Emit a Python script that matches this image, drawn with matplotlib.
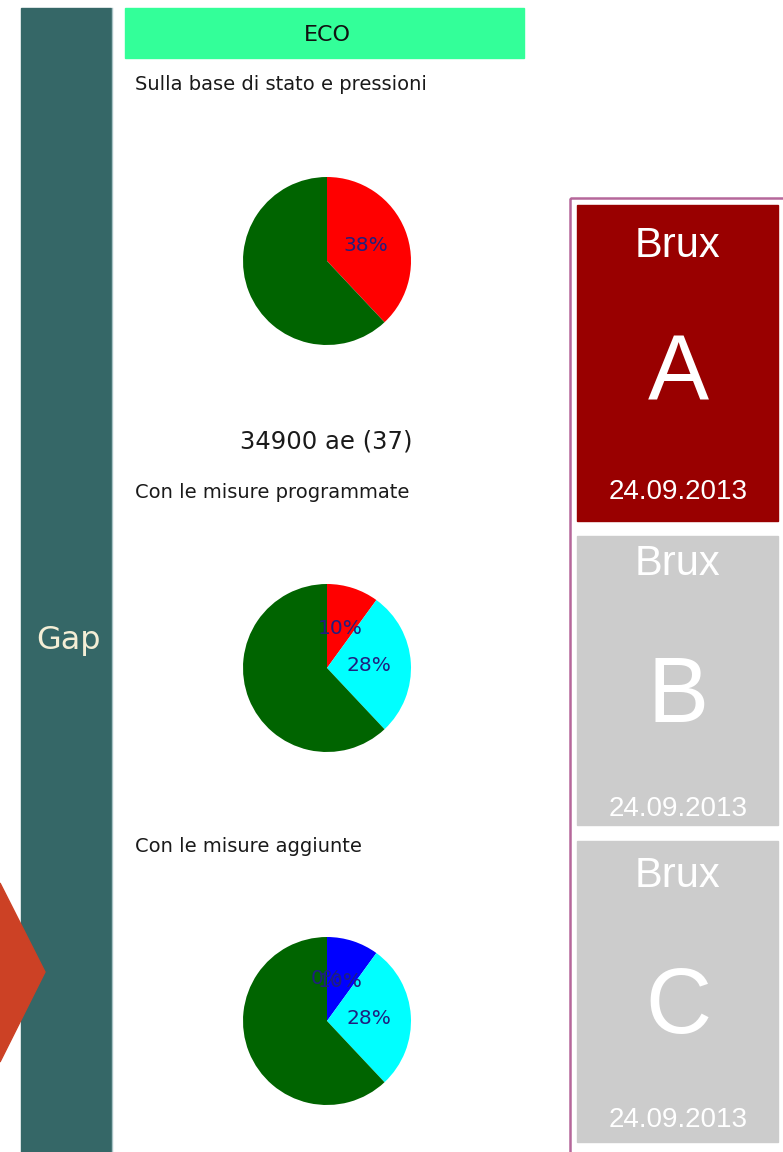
import matplotlib.pyplot as plt
from matplotlib.patches import Rectangle, Polygon

# Data
header = "ECO"
side_label = "Gap"
section_titles = ["Sulla base di stato e pressioni",
                  "Con le misure programmate",
                  "Con le misure aggiunte"]
summary_text = "34900 ae (37)"
pie_values = [[38, 62], [10, 28, 62], [0, 10, 28, 62]]
pie_colors = [["#ff0000", "#006400"],
              ["#ff0000", "#00ffff", "#006400"],
              ["#ff0000", "#0000ff", "#00ffff", "#006400"]]
tile_city = "Brux"
tile_letters = ["A", "B", "C"]
tile_date = "24.09.2013"

W, H = 783, 1152


def main():
    fig = plt.figure(figsize=(W / 100, H / 100), dpi=100)
    ax = fig.add_axes([0, 0, 1, 1])
    ax.set_xlim(0, W)
    ax.set_ylim(H, 0)
    ax.axis("off")

    # left band and arrow
    ax.add_patch(Rectangle((21, 8), 90, H, color="#356767", zorder=1))
    ax.plot([111.5, 111.5], [8, H], color="#a9c3c6", lw=1, zorder=2)
    ax.add_patch(Polygon([(0, 883), (45, 972), (0, 1062)], closed=True,
                         color="#cc4125", zorder=3))
    ax.text(69, 641, side_label, color="#f4eed6", fontsize=23,
            ha="center", va="center", zorder=4)

    # header
    ax.add_patch(Rectangle((125, 8), 399, 50, color="#33ff99", zorder=1))
    ax.text(327, 35, header, fontsize=16, ha="center", va="center",
            color="#111111")

    title_y = [85, 492, 846]
    for t, y in zip(section_titles, title_y):
        ax.text(135, y, t, fontsize=14, ha="left", va="center",
                color="#1a1a1a")
    ax.text(326, 441, summary_text, fontsize=17.5, ha="center", va="center",
            color="#1a1a1a")

    # pies
    centers = [261, 668, 1021]
    r = 84
    for vals, cols, cy in zip(pie_values, pie_colors, centers):
        cx = 327
        pax = fig.add_axes([(cx - r) / W, 1 - (cy + r) / H, 2 * r / W, 2 * r / H])
        wedges, texts, autotexts = pax.pie(
            vals, colors=cols, startangle=90, counterclock=False,
            autopct="%1.0f%%", pctdistance=0.5,
            textprops={"color": "#1f1f7f", "fontsize": 14.5})
        autotexts[-1].set_text("")
        pax.set_xlim(-1, 1)
        pax.set_ylim(-1, 1)
        pax.set_aspect("equal")
        pax.axis("off")

    # right panel
    ax.add_patch(Rectangle((570, 198), 260, 1000, fill=False,
                           edgecolor="#b5679a", lw=1.8, zorder=2))
    tops = [205, 536, 841]
    bottoms = [521, 825, 1142]
    fills = ["#990000", "#cccccc", "#cccccc"]
    city_off = [41, 28, 35]
    letter_off = [172, 162, 168]
    date_off = [29, 16, 22]
    for i, letter in enumerate(tile_letters):
        t, b = tops[i], bottoms[i]
        ax.add_patch(Rectangle((577, t), 201, b - t, color=fills[i], zorder=3))
        ax.text(678, t + city_off[i], tile_city, color="white", fontsize=30,
                family="Liberation Sans", ha="center", va="center", zorder=4)
        ax.text(678, t + letter_off[i], letter, color="white", fontsize=66,
                family="Liberation Sans", ha="center", va="center", zorder=4)
        ax.text(678, b - date_off[i], tile_date, color="white", fontsize=20,
                family="Liberation Sans", ha="center", va="center", zorder=4)

    fig.savefig("out.png", dpi=100)


if __name__ == "__main__":
    main()
